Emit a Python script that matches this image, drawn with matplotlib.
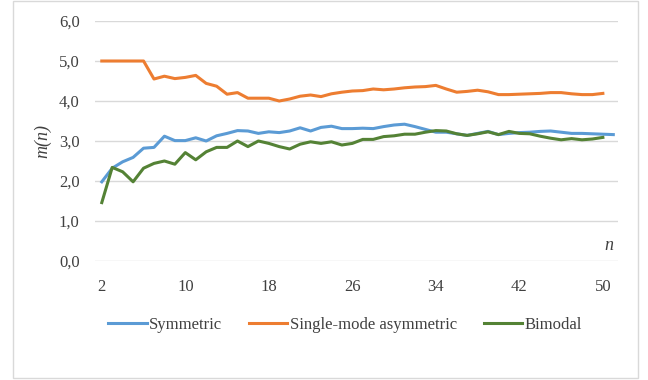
import matplotlib
matplotlib.use("Agg")
import matplotlib.pyplot as plt
from matplotlib.patches import Rectangle

n_sym = list(range(2, 52))
symmetric = [1.98, 2.32, 2.48, 2.59, 2.82, 2.84, 3.12, 3.01, 3.01, 3.08,
             3.00, 3.13, 3.19, 3.26, 3.25, 3.19, 3.23, 3.21, 3.25, 3.33,
             3.25, 3.34, 3.37, 3.31, 3.31, 3.32, 3.31, 3.36, 3.40, 3.42,
             3.36, 3.29, 3.22, 3.22, 3.18, 3.14, 3.19, 3.24, 3.16, 3.19,
             3.21, 3.22, 3.24, 3.25, 3.22, 3.19, 3.19, 3.18, 3.17, 3.16]

n_other = list(range(2, 51))
single_mode = [5.00, 5.00, 5.00, 5.00, 5.00, 4.55, 4.62, 4.56, 4.59, 4.64,
               4.44, 4.37, 4.17, 4.21, 4.07, 4.07, 4.07, 4.00, 4.05, 4.12,
               4.15, 4.11, 4.18, 4.22, 4.25, 4.26, 4.30, 4.28, 4.30, 4.33,
               4.35, 4.36, 4.39, 4.30, 4.22, 4.24, 4.27, 4.23, 4.16, 4.16,
               4.17, 4.18, 4.19, 4.21, 4.21, 4.18, 4.16, 4.16, 4.19]
bimodal = [1.46, 2.34, 2.23, 1.98, 2.32, 2.44, 2.50, 2.42, 2.71, 2.53,
           2.73, 2.84, 2.84, 3.00, 2.86, 3.00, 2.94, 2.86, 2.80, 2.92,
           2.98, 2.94, 2.98, 2.90, 2.94, 3.04, 3.04, 3.11, 3.13, 3.17,
           3.17, 3.22, 3.26, 3.25, 3.18, 3.14, 3.18, 3.23, 3.16, 3.24,
           3.19, 3.18, 3.12, 3.07, 3.03, 3.06, 3.03, 3.05, 3.09]

xticks = [2, 10, 18, 26, 34, 42, 50]
yticks = [0, 1, 2, 3, 4, 5, 6]
labels = ["Symmetric", "Single-mode asymmetric", "Bimodal"]
colors = ["#5B9BD5", "#ED7D31", "#548235"]

plt.rcParams['font.family'] = ['Liberation Serif', 'DejaVu Serif']

W, H = 648, 380
fig = plt.figure(figsize=(W / 100, H / 100), dpi=100)
fig.patch.set_facecolor("white")
# chart border
fig.add_artist(Rectangle((13 / W, 1 - 378 / H), (638 - 13) / W, (378 - 1) / H,
                         transform=fig.transFigure, fill=False,
                         edgecolor="#d9d9d9", linewidth=1.0))

ax = fig.add_axes([95 / W, 1 - 261 / H, (618 - 95) / W, (261 - 21) / H])
ax.plot(n_sym, symmetric, color=colors[0], lw=2.2, label=labels[0],
        solid_joinstyle="round")
ax.plot(n_other, single_mode, color=colors[1], lw=2.2, label=labels[1],
        solid_joinstyle="round")
ax.plot(n_other, bimodal, color=colors[2], lw=2.2, label=labels[2],
        solid_joinstyle="round")

ax.set_xlim(1.35, 51.45)
ax.set_ylim(0, 6)
ax.set_yticks(yticks)
ax.set_yticklabels([f"{v:.1f}".replace(".", ",") for v in yticks])
ax.set_xticks(xticks)
ax.set_xticklabels([str(v) for v in xticks])
ax.tick_params(axis="both", length=0, labelsize=12, colors="#404040")
ax.tick_params(axis="y", pad=11)
ax.tick_params(axis="x", pad=13)
for s in ax.spines.values():
    s.set_visible(False)
ax.grid(axis="y", color="#d9d9d9", lw=1.0)
ax.set_axisbelow(True)

fig.text(43 / W, 1 - 141 / H, "m(n)", rotation=90, ha="center", va="center",
         fontsize=13, style="italic", color="#404040")
fig.text(609 / W, 1 - 246 / H, "n", ha="center", va="center",
         fontsize=13, style="italic", color="#404040")

fig.legend(loc="center", bbox_to_anchor=(345 / W, 1 - 325 / H), ncol=3,
           frameon=False, fontsize=12, handlelength=2.3, handletextpad=0.15,
           columnspacing=1.6, labelcolor="#404040")

fig.savefig("out.png", dpi=100)
